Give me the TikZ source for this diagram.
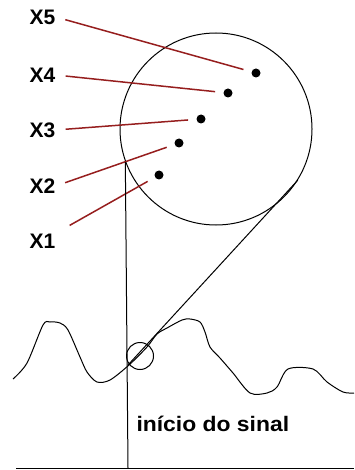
\documentclass[tikz,border=0pt]{standalone}
\usepackage{fontspec}
\setmainfont{Liberation Sans}
\usetikzlibrary{positioning}
\definecolor{fio}{RGB}{150,30,30}

\begin{document}
\begin{tikzpicture}[x=1pt, y=-1pt, line width=1pt,
    rotulo/.style={font=\fontsize{21}{24}\selectfont\bfseries, inner sep=0pt},
    ponto/.style={circle, fill=black, inner sep=0pt, minimum size=9pt},
    fiovermelho/.style={fio, line width=1.5pt, shorten <=10pt, shorten >=8pt}]
  \useasboundingbox (0,0) rectangle (354,470);

  % Circles
  \node[draw, circle, minimum size=192pt, inner sep=0pt] (zoom) at (216,129) {};
  \node[draw, circle, minimum size=27pt, inner sep=0pt] (lupa) at (140,356) {};

  % Points inside the zoom
  \node[ponto] (d1) at (159,175) {};
  \node[ponto] (d2) at (179,143) {};
  \node[ponto] (d3) at (201,119) {};
  \node[ponto] (d4) at (228,93) {};
  \node[ponto] (d5) at (256,73) {};

  % Labels
  \node[rotulo, anchor=west] (x5) at (29,17) {X5};
  \node[rotulo, anchor=west] (x4) at (29,75) {X4};
  \node[rotulo, anchor=west] (x3) at (29,130) {X3};
  \node[rotulo, anchor=west] (x2) at (29,186) {X2};
  \node[rotulo, anchor=west] (x1) at (29,241) {X1};

  % Red lines
  \draw[fiovermelho] (x5.east) -- (d5);
  \draw[fiovermelho] (x4.east) -- (d4);
  \draw[fiovermelho] (x3.east) -- (d3);
  \draw[fiovermelho] (x2.east) -- (d2);
  \draw[fiovermelho, shorten <=16pt] (x1.north east) -- (d1);

  % Signal
  \draw plot[smooth, tension=0.5] coordinates {(13,379) (27,363) (43,325) (50,322)
    (60,323) (68,330) (80,357) (87,372) (97,382) (110,380) (129,365)
    (147,347) (157,334) (167,328) (182,320) (190,319) (200,322) (205,332)
    (210,347) (220,358) (233,373) (250,393) (267,393) (277,387) (288,369)
    (313,369) (327,382) (343,392) (354,393)};

  % Start of the signal
  \coordinate (inicio) at (128,365);
  \coordinate (topo) at (zoom.200);
  \coordinate (base) at (128,468);
  \coordinate (eixoE) at (16,468);
  \coordinate (eixoD) at (354,468);
  \draw (topo) -- (base);
  \draw (inicio) -- (zoom.328);
  \draw (eixoE) -- (eixoD);

  \node[rotulo, anchor=base west] (sinal) at (136,431) {\scalebox{1.09}[1]{início do sinal}};
\end{tikzpicture}
\end{document}
